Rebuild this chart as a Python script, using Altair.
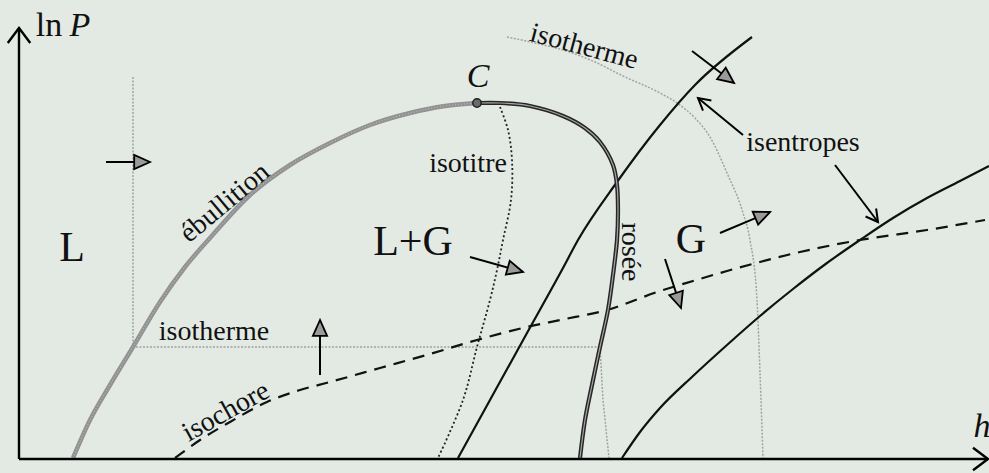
import math
import altair as alt
import pandas as pd

W, H = 989, 473
BG = "#e3eae4"
SERIF = "Liberation Serif"

# ---- curves of the (h, ln P) diagram -------------------------------------
# boiling curve (ébullition), liquid side of the dome up to the critical point
EBUL_H = [73, 90, 110, 133, 160, 185, 210, 250, 290, 330, 370, 410, 445, 477]
EBUL_P = [15, 53, 88, 126, 171, 206, 235, 278, 308, 330, 348, 360, 367, 370]

# dew curve (rosée), vapour side of the dome
ROSEE_H = [477, 500, 530, 563, 585, 600, 613, 617, 618, 617, 613, 608, 600, 592, 585, 580]
ROSEE_P = [370, 370, 367, 357, 345, 331, 308, 288, 263, 233, 198, 163, 126, 88, 53, 15]

# constant vapour fraction (isotitre)
ISOTITRE_H = [500, 508, 512, 511, 503, 497, 490, 477, 463, 438]
ISOTITRE_P = [366, 343, 313, 273, 233, 203, 173, 126, 73, 15]

# isotherm crossing the dome: vertical in the liquid, flat inside, then gas side
ISOT_LIQ_H = [133, 133, 600, 603, 609]
ISOT_LIQ_P = [396, 126, 126, 73, 15]

# supercritical isotherm
ISOT_GAS_H = [507, 535, 563, 595, 623, 660, 677, 695, 710, 727, 743, 750, 757, 760, 763]
ISOT_GAS_P = [436, 430, 423, 411, 397, 380, 370, 355, 336, 300, 260, 233, 173, 100, 15]

# isentropes
ISEN1_H = [458, 490, 527, 563, 578, 617, 660, 695, 752]
ISEN1_P = [15, 73, 140, 205, 233, 291, 348, 388, 436]
ISEN2_H = [622, 640, 660, 693, 727, 760, 793, 827, 860, 893, 927, 960, 989]
ISEN2_P = [15, 41, 65, 97, 128, 157, 184, 210, 233, 255, 275, 292, 307]

# isochore
ISOCHORE_H = [175, 200, 230, 267, 300, 330, 380, 430, 477, 527, 560, 607, 660, 693,
              727, 760, 800, 860, 927, 985]
ISOCHORE_P = [15, 33, 51, 71, 83, 91, 105, 119, 133, 146, 153, 163, 182, 192,
              202, 211, 221, 233, 243, 253]

# critical point
CRIT_H = [477]
CRIT_P = [370]

# axes: origin, top of ln P axis, end of h axis
AXIS_H0 = [19, 19]
AXIS_P0 = [14, 14]
AXIS_H1 = [19, 988]
AXIS_P1 = [445, 14]

# direction-of-increase arrows (filled heads)
ARROW_H0 = [106, 320, 470, 720, 665, 692]
ARROW_P0 = [311, 98, 216, 240, 214, 422]
ARROW_H1 = [150, 320, 523, 770, 681, 734]
ARROW_P1 = [311, 153, 201, 261, 165, 390]

# pointers from the "isentropes" label (open heads)
PTR_H0 = [743, 835]
PTR_P0 = [338, 308]
PTR_H1 = [698, 878]
PTR_P1 = [375, 251]

# ---- labels ---------------------------------------------------------------
UP_TEXT = ["ln", "L", "L+G", "G", "isotitre", "isotherme", "isentropes"]
UP_H = [49, 72, 413, 691, 468, 214, 803]
UP_P = [437, 212, 218, 220, 301, 133, 322]
UP_SIZE = [34, 42, 42, 42, 28, 28, 28]

IT_TEXT = ["P", "C", "h"]
IT_H = [80, 478, 982]
IT_P = [437, 386, 36]
IT_SIZE = [34, 34, 34]

ROT_TEXT = ["ébullition", "isotherme", "isochore", "rosée"]
ROT_H = [225, 584, 226, 630]
ROT_P = [270, 426, 61, 221]
ROT_ANGLE = [320, 15, 331, 90]
ROT_SIZE = [28, 28, 28, 28]

xs = alt.Scale(domain=[0, W], nice=False, zero=False)
ys = alt.Scale(domain=[0, H], nice=False, zero=False)


def X(f):
    return alt.X(f"{f}:Q", scale=xs, axis=None)


def Y(f):
    return alt.Y(f"{f}:Q", scale=ys, axis=None)


def curve(hs, ps, color, width, dash=None, interp="monotone"):
    df = pd.DataFrame({"h": hs, "lnP": ps, "seq": list(range(len(hs)))})
    kw = dict(color=color, strokeWidth=width, interpolate=interp)
    if dash:
        kw["strokeDash"] = dash
    return alt.Chart(df).mark_line(**kw).encode(x=X("h"), y=Y("lnP"), order="seq:Q")


def heading(h0, p0, h1, p1):
    return [math.degrees(math.atan2(b - a, d - c)) % 360
            for a, b, c, d in zip(h0, h1, p0, p1)]


def segments(h0, p0, h1, p1, width):
    df = pd.DataFrame({"h0": h0, "p0": p0, "h1": h1, "p1": p1,
                       "ang": heading(h0, p0, h1, p1)})
    rules = alt.Chart(df).mark_rule(color="black", strokeWidth=width).encode(
        x=X("h0"), y=Y("p0"), x2="h1:Q", y2="p1:Q")
    return df, rules


TRI = "M0,0L-0.45,1L0.45,1Z"
CHEVRON = "M-0.5,0.9L0,0L0.5,0.9"
AXIS_CHEVRON = "M-0.75,1L0,0L0.75,1"

layers = []

# thermodynamic curves
layers.append(curve(ISOT_LIQ_H, ISOT_LIQ_P, "#a2a2a2", 1.5, [2, 1.5], "linear"))
layers.append(curve(ISOT_GAS_H, ISOT_GAS_P, "#a2a2a2", 1.5, [2, 1.5]))
layers.append(curve(ISOTITRE_H, ISOTITRE_P, "#222222", 1.8, [2, 2.5], "catmull-rom"))
layers.append(curve(ISOCHORE_H, ISOCHORE_P, "#111111", 2.2, [12, 8]))
layers.append(curve(ISEN1_H, ISEN1_P, "#111111", 2.2))
layers.append(curve(ISEN2_H, ISEN2_P, "#111111", 2.2))
layers.append(curve(EBUL_H, EBUL_P, "#929292", 4.5))
layers.append(curve(EBUL_H, EBUL_P, "#b8b8b8", 1.2, [1, 2]))
layers.append(curve(ROSEE_H, ROSEE_P, "#262626", 4.2, None, "catmull-rom"))
layers.append(curve(ROSEE_H, ROSEE_P, "#a6a6a6", 1.2, None, "catmull-rom"))

# critical point
crit = pd.DataFrame({"h": CRIT_H, "lnP": CRIT_P})
layers.append(alt.Chart(crit).mark_point(
    shape="circle", filled=True, fill="#6a6a6a", stroke="#222222",
    strokeWidth=1.5, size=70, opacity=1).encode(x=X("h"), y=Y("lnP")))

# axes with open arrowheads
axis_df, axis_rules = segments(AXIS_H0, AXIS_P0, AXIS_H1, AXIS_P1, 2.4)
layers.append(axis_rules)
layers.append(alt.Chart(axis_df).mark_point(
    shape=AXIS_CHEVRON, filled=False, stroke="black", strokeWidth=2.4,
    size=900, opacity=1).encode(
    x=X("h1"), y=Y("p1"), angle=alt.Angle("ang:Q", scale=None)))

# arrows with filled triangular heads
arr_df, arr_rules = segments(ARROW_H0, ARROW_P0, ARROW_H1, ARROW_P1, 2.0)
layers.append(arr_rules)
layers.append(alt.Chart(arr_df).mark_point(
    shape=TRI, filled=True, fill="#9a9a9a", stroke="black", strokeWidth=1.8,
    size=1000, opacity=1).encode(
    x=X("h1"), y=Y("p1"), angle=alt.Angle("ang:Q", scale=None)))

# pointers to the isentropes
ptr_df, ptr_rules = segments(PTR_H0, PTR_P0, PTR_H1, PTR_P1, 2.0)
layers.append(ptr_rules)
layers.append(alt.Chart(ptr_df).mark_point(
    shape=CHEVRON, filled=False, stroke="black", strokeWidth=2.0,
    size=700, opacity=1).encode(
    x=X("h1"), y=Y("p1"), angle=alt.Angle("ang:Q", scale=None)))

# labels
up = pd.DataFrame({"t": UP_TEXT, "h": UP_H, "lnP": UP_P, "s": UP_SIZE})
layers.append(alt.Chart(up).mark_text(
    font=SERIF, color="#111111", align="center", baseline="alphabetic").encode(
    x=X("h"), y=Y("lnP"), text="t:N", size=alt.Size("s:Q", scale=None)))

it = pd.DataFrame({"t": IT_TEXT, "h": IT_H, "lnP": IT_P, "s": IT_SIZE})
layers.append(alt.Chart(it).mark_text(
    font=SERIF, fontStyle="italic", color="#111111", align="center",
    baseline="alphabetic").encode(
    x=X("h"), y=Y("lnP"), text="t:N", size=alt.Size("s:Q", scale=None)))

rot = pd.DataFrame({"t": ROT_TEXT, "h": ROT_H, "lnP": ROT_P,
                    "a": ROT_ANGLE, "s": ROT_SIZE})
layers.append(alt.Chart(rot).mark_text(
    font=SERIF, color="#111111", align="center", baseline="middle").encode(
    x=X("h"), y=Y("lnP"), text="t:N", size=alt.Size("s:Q", scale=None),
    angle=alt.Angle("a:Q", scale=None)))

chart = alt.layer(*layers).properties(
    width=W, height=H, background=BG, padding=0, autosize="none"
).configure_view(stroke=None)

chart.save("out.html", embed_options={"renderer": "svg", "actions": False})
